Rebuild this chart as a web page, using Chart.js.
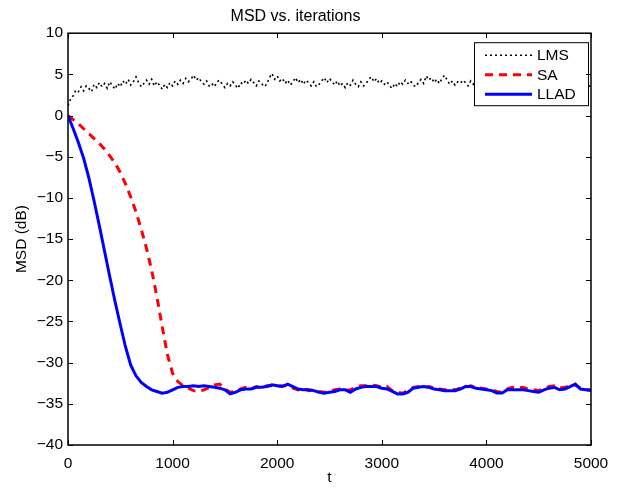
<!DOCTYPE html>
<html>
<head>
<meta charset="utf-8">
<script src="https://cdn.jsdelivr.net/npm/chart.js@4"></script>
<style>
  body { margin: 0; background: #fff; }
</style>
</head>
<body>
<canvas id="chart" width="618" height="487"></canvas>
<script>
// series labels
const seriesNames = ['LMS', 'SA', 'LLAD']

// LMS sampled every 25 iterations (0..5000)
const lmsStep = 25
const lmsValues = [
    1.2, 2.0, 2.4, 3.1, 2.9, 3.5, 3.0, 3.6, 3.3, 2.9, 3.8, 3.4, 4.0, 3.5, 3.9, 3.3, 4.1, 3.6, 3.2, 3.9,
    3.5, 4.2, 3.8, 4.4, 3.7, 4.1, 4.7, 4.0, 3.5, 3.9, 4.3, 3.8, 4.4, 3.6, 4.1, 3.7, 3.2, 3.8, 3.4, 4.0,
    3.6, 4.2, 3.8, 4.3, 3.9, 4.5, 4.1, 4.4, 4.9, 4.3, 4.6, 4.1, 3.8, 4.2, 3.6, 3.9, 3.5, 4.1, 4.3, 3.8,
    3.4, 3.9, 3.6, 4.1, 3.7, 3.3, 4.0, 3.8, 4.3, 3.9, 4.4, 4.0, 3.6, 4.2, 3.9, 3.5, 3.8, 4.6, 5.1, 4.4,
    4.8, 4.2, 4.5, 3.9, 4.3, 3.7, 4.1, 4.6, 4.0, 4.4, 3.8, 4.3, 4.0, 3.6, 4.1, 3.5, 3.8, 4.2, 4.6, 4.0,
    4.5, 4.1, 3.7, 4.2, 3.6, 3.9, 3.4, 4.0, 3.7, 4.3, 3.8, 3.5, 4.1, 3.6, 3.9, 4.4, 4.7, 4.1, 4.5, 3.9,
    4.2, 3.8, 4.1, 3.6, 3.3, 3.9, 3.5, 4.1, 3.8, 4.3, 3.9, 4.2, 3.7, 3.5, 4.0, 4.4, 3.9, 4.8, 4.3, 4.6,
    4.0, 4.4, 3.9, 4.5, 4.9, 4.3, 3.8, 4.2, 3.7, 4.1, 3.9, 4.3, 4.0, 3.6, 4.2, 3.8, 4.4, 4.0, 3.7, 4.1,
    3.8, 4.3, 3.9, 4.5, 4.0, 3.6, 4.2, 3.8, 4.4, 4.1, 3.7, 4.2, 3.9, 4.5, 4.0, 3.6, 4.1, 3.8, 4.3, 3.9,
    4.2, 3.7, 4.1, 3.5, 3.9, 4.4, 3.8, 4.2, 3.6, 4.0, 3.7, 4.3, 3.9, 3.5, 4.0, 3.6, 3.9, 3.4, 3.8, 3.5,
    3.7
]

// SA and LLAD sampled every 50 iterations (0..5000)
const step = 50
const saValues = [
    0, -0.5, -1.0, -1.6, -2.2, -2.8, -3.4, -4.1, -4.9, -5.8,
    -6.9, -8.3, -9.9, -11.7, -13.8, -16.1, -18.8, -22.0, -25.6, -29.0,
    -31.3, -32.3, -32.8, -33.1, -33.4, -33.5, -33.3, -33.0, -32.7, -32.6,
    -33.2, -33.6, -33.5, -33.2, -33.0, -33.2, -32.9, -33.1, -32.8, -32.8,
    -32.9, -32.8, -32.8, -33.1, -33.3, -33.1, -33.4, -33.3, -33.5, -33.6,
    -33.5, -33.3, -33.2, -33.4, -33.3, -33.0, -32.8, -32.8, -32.7, -32.8,
    -33.0, -32.9, -33.4, -33.6, -33.7, -33.4, -33.0, -32.9, -33.0, -32.9,
    -33.1, -33.2, -33.3, -33.2, -33.3, -33.1, -33.0, -32.8, -33.0, -33.1,
    -33.2, -33.3, -33.5, -33.6, -33.2, -33.0, -33.1, -33.0, -33.2, -33.3,
    -33.4, -33.2, -32.9, -32.8, -33.1, -33.0, -32.8, -32.7, -33.1, -33.3,
    -33.3
]
const lladValues = [
    0, -1.6, -3.3, -5.2, -7.6, -10.4, -13.4, -16.5, -19.6, -22.6,
    -25.4, -28.1, -30.3, -31.6, -32.4, -32.9, -33.3, -33.5, -33.7, -33.6,
    -33.3, -33.0, -32.9, -32.9, -32.8, -32.9, -32.8, -32.9, -33.0, -33.1,
    -33.3, -33.8, -33.6, -33.3, -33.2, -33.2, -33.0, -33.0, -32.9, -32.7,
    -32.8, -32.9, -32.6, -32.9, -33.2, -33.3, -33.3, -33.4, -33.6, -33.7,
    -33.6, -33.5, -33.3, -33.3, -33.6, -33.2, -33.0, -32.9, -32.9, -32.9,
    -33.1, -33.2, -33.5, -33.8, -33.8, -33.6, -33.1, -33.0, -32.9, -33.0,
    -33.2, -33.3, -33.4, -33.4, -33.4, -33.2, -32.9, -32.9, -33.1, -33.2,
    -33.3, -33.4, -33.7, -33.7, -33.3, -33.3, -33.3, -33.3, -33.4, -33.5,
    -33.6, -33.3, -33.1, -33.0, -33.3, -33.2, -32.9, -32.6, -33.2, -33.3,
    -33.4
]

// axis ticks
const xTicks = [0, 1000, 2000, 3000, 4000, 5000]
const yTicks = [-40, -35, -30, -25, -20, -15, -10, -5, 0, 5, 10]

const toPoints = (vals, dt) => vals.map((v, i) => ({x: i * dt, y: v}))

const fontFamily = '"Liberation Sans", Arial, Helvetica, sans-serif'
Chart.defaults.font.family = fontFamily
Chart.defaults.font.size = 15.5
Chart.defaults.color = '#000'

// matlab style box, inward ticks and in-axes legend
const boxAxes = {
    id: 'boxAxes',
    afterDatasetsDraw(chart) {
        const {ctx, chartArea: a, scales: {x, y}} = chart
        ctx.save()

        // legend
        const lw = 114, lh = 63
        const lx = a.right - 117, ly = a.top + 9
        ctx.fillStyle = '#fff'
        ctx.fillRect(lx, ly, lw, lh)
        ctx.strokeStyle = '#000'
        ctx.lineWidth = 1
        ctx.strokeRect(lx + 0.5, ly + 0.5, lw, lh)
        ctx.font = '15.5px ' + fontFamily
        ctx.textBaseline = 'middle'
        chart.data.datasets.forEach((ds, i) => {
            const ry = ly + 13 + i * 19.5
            ctx.save()
            ctx.strokeStyle = ds.borderColor
            ctx.lineWidth = ds.borderWidth
            ctx.setLineDash(ds.borderDash || [])
            ctx.beginPath()
            ctx.moveTo(lx + 11, ry)
            ctx.lineTo(lx + 58, ry)
            ctx.stroke()
            ctx.restore()
            ctx.fillStyle = '#000'
            ctx.fillText(ds.label, lx + 63, ry + 1)
        })

        // ticks inward on all four sides
        ctx.strokeStyle = '#000'
        ctx.lineWidth = 1
        ctx.beginPath()
        xTicks.forEach(v => {
            const px = Math.round(x.getPixelForValue(v)) + 0.5
            ctx.moveTo(px, a.bottom); ctx.lineTo(px, a.bottom - 5)
            ctx.moveTo(px, a.top); ctx.lineTo(px, a.top + 5)
        })
        yTicks.forEach(v => {
            const py = Math.round(y.getPixelForValue(v)) + 0.5
            ctx.moveTo(a.left, py); ctx.lineTo(a.left + 5, py)
            ctx.moveTo(a.right, py); ctx.lineTo(a.right - 5, py)
        })
        ctx.stroke()

        ctx.lineWidth = 1.5
        ctx.strokeRect(a.left, a.top, a.right - a.left, a.bottom - a.top)
        ctx.restore()
    }
}

new Chart(document.getElementById('chart'), {
    type: 'line',
    data: {
        datasets: [
            {
                label: seriesNames[0],
                data: toPoints(lmsValues, lmsStep),
                borderColor: '#000',
                borderWidth: 1.6,
                borderDash: [2, 3],
                order: 2
            },
            {
                label: seriesNames[1],
                data: toPoints(saValues, step),
                borderColor: '#ff0000',
                borderWidth: 3,
                borderDash: [8, 6],
                order: 1
            },
            {
                label: seriesNames[2],
                data: toPoints(lladValues, step),
                borderColor: '#0000ff',
                borderWidth: 3,
                order: 0
            }
        ]
    },
    options: {
        responsive: false,
        animation: false,
        layout: {padding: {left: 0, right: 27, top: 0, bottom: 0}},
        elements: {point: {radius: 0}, line: {tension: 0}},
        plugins: {
            legend: {display: false},
            tooltip: {enabled: false},
            title: {
                display: true,
                text: 'MSD vs. iterations',
                font: {size: 16, weight: 'normal'},
                color: '#000',
                padding: {top: 7, bottom: 7}
            }
        },
        scales: {
            x: {
                type: 'linear',
                min: 0,
                max: 5000,
                afterBuildTicks: s => { s.ticks = xTicks.map(v => ({value: v})) },
                afterFit: s => { s.height = 42 },
                grid: {display: false, drawTicks: false},
                border: {display: false},
                ticks: {padding: 9, maxRotation: 0, color: '#000', callback: v => String(v)},
                title: {display: true, text: 't', color: '#000', padding: 0}
            },
            y: {
                min: -40,
                max: 10,
                afterBuildTicks: s => { s.ticks = yTicks.map(v => ({value: v})) },
                afterFit: s => { s.width = 68 },
                grid: {display: false, drawTicks: false},
                border: {display: false},
                ticks: {
                    padding: 5,
                    color: '#000',
                    callback: v => String(v).replace('-', '\u2212')
                },
                title: {display: true, text: 'MSD (dB)', color: '#000', padding: {top: 12, bottom: 0}}
            }
        }
    },
    plugins: [boxAxes]
})
</script>
</body>
</html>
